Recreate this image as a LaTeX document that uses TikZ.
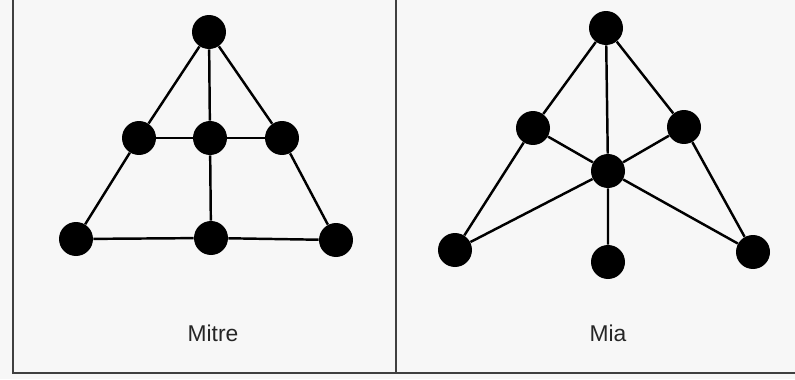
\documentclass[tikz,border=0pt]{standalone}
\usepackage{fontspec}
\setmainfont{Liberation Sans}
\usepackage{tikz}

\begin{document}
\begin{tikzpicture}[x=0.02cm,y=-0.02cm,
  dot/.style={circle,fill,inner sep=0pt,minimum size=0.68cm},
  link/.style={line width=1.4pt},
  border/.style={line width=1.5pt,black!75},
  caption/.style={font=\fontsize{13}{15}\selectfont,text=black!85}]
  \fill[black!3] (0,0) rectangle (795,379);
  \useasboundingbox (0,0) rectangle (795,379);
  \coordinate (tl) at (13,0);
  \coordinate (bl) at (13,373);
  \coordinate (tm) at (396,0);
  \coordinate (bm) at (396,373);
  \coordinate (br) at (795,373);
  \draw[border] (tl)--(bl)--(br);
  \draw[border] (tm)--(bm);
  % Mitre
  \node[dot] (1) at (209,32) {};
  \node[dot] (2) at (139,138) {};
  \node[dot] (3) at (210,138) {};
  \node[dot] (4) at (282,138) {};
  \node[dot] (5) at (76,239) {};
  \node[dot] (6) at (211,238) {};
  \node[dot] (7) at (336,240) {};
  \draw[link] (1)--(2)--(5);
  \draw[link] (1)--(4)--(7);
  \draw[link] (1)--(3)--(6);
  \draw[link] (2)--(3)--(4);
  \draw[link] (5)--(6)--(7);
  \node[caption] (mitre) at (213,333) {Mitre};
  % Mia
  \node[dot] (a) at (606,28) {};
  \node[dot] (b) at (533,128) {};
  \node[dot] (c) at (684,127) {};
  \node[dot] (d) at (608,171) {};
  \node[dot] (e) at (455,250) {};
  \node[dot] (f) at (608,262) {};
  \node[dot] (g) at (753,252) {};
  \draw[link] (b)--(a)--(c);
  \draw[link] (a)--(d)--(f);
  \draw[link] (b)--(d)--(c);
  \draw[link] (b)--(e)--(d)--(g)--(c);
  \node[caption] (mia) at (608,333) {Mia};
\end{tikzpicture}
\end{document}
